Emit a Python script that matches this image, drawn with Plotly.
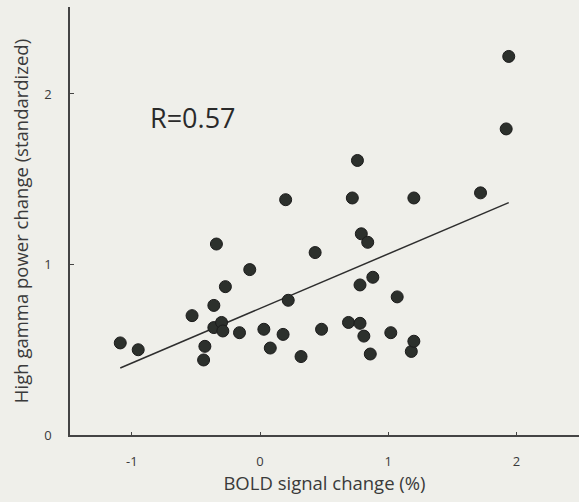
import plotly.graph_objects as go
import numpy as np

# Data
bold_change = [-1.09, -0.95, -0.53, -0.36, -0.34, -0.43, -0.44, -0.36, -0.30, -0.29,
               -0.27, -0.08, -0.16, 0.03, 0.08, 0.18, 0.20, 0.22, 0.32, 0.43,
               0.48, 0.69, 0.72, 0.76, 0.78, 0.78, 0.79, 0.81, 0.84, 0.86,
               0.88, 1.02, 1.07, 1.18, 1.20, 1.20, 1.72, 1.92, 1.94]
gamma_change = [0.54, 0.50, 0.70, 0.76, 1.12, 0.52, 0.44, 0.63, 0.66, 0.61,
                0.87, 0.97, 0.60, 0.62, 0.51, 0.59, 1.38, 0.79, 0.46, 1.07,
                0.62, 0.66, 1.39, 1.61, 0.88, 0.655, 1.18, 0.58, 1.13, 0.475,
                0.925, 0.60, 0.81, 0.49, 0.55, 1.39, 1.42, 1.795, 2.22]

fit_slope = 0.32
fit_intercept = 0.742
r_label = "R=0.57"

x_ticks = [-1, 0, 1, 2]
y_ticks = [0, 1, 2]

fit_x = [min(bold_change), max(bold_change)]
fit_y = [fit_intercept + fit_slope * v for v in fit_x]

bg = "#efefea"
ink = "#3a3a3a"
font_family = "Open Sans, Noto Sans, sans-serif"

fig = go.Figure()
fig.add_trace(go.Scatter(
    x=fit_x, y=fit_y, mode="lines",
    line=dict(color="#2e2e2e", width=1.5),
    showlegend=False, hoverinfo="skip"))
fig.add_trace(go.Scatter(
    x=bold_change, y=gamma_change, mode="markers",
    marker=dict(size=12, color="#2c302c", line=dict(color="#1b1b1b", width=1)),
    showlegend=False))

fig.add_annotation(x=-0.87, y=1.86, xref="x", yref="y", text=r_label,
                   showarrow=False, xanchor="left", yanchor="middle",
                   font=dict(family=font_family, size=27, color="#2a2a2a"))

fig.update_layout(
    width=579, height=502,
    margin=dict(l=70, r=0, t=7, b=67),
    paper_bgcolor=bg, plot_bgcolor=bg,
    font=dict(family=font_family, color=ink),
    xaxis=dict(range=[-1.482, 2.488], tickvals=x_ticks, ticktext=["-1", "0", "1", "2"],
               automargin=False,
               showgrid=False, zeroline=False, showline=True, linecolor="#444444",
               linewidth=1.5, ticks="inside", ticklen=3, tickcolor="#444444",
               tickfont=dict(size=13, color=ink), ticklabelstandoff=14,
               title=dict(text="BOLD signal change (%)", font=dict(size=18.5, color=ink),
                          standoff=8)),
    yaxis=dict(range=[0, 2.51], tickvals=y_ticks, automargin=False,
               showgrid=False, zeroline=False, showline=True, linecolor="#444444",
               linewidth=1.5, ticks="inside", ticklen=4, tickcolor="#444444",
               tickfont=dict(size=13, color=ink), ticklabelstandoff=14,
               title=dict(text="High gamma power change (standardized)",
                          font=dict(size=18.5, color=ink), standoff=11)),
)

fig.write_html(
    "out.html",
    config={"displayModeBar": False},
    post_script="document.body.style.margin='0';document.body.style.background='" + bg + "';",
)
